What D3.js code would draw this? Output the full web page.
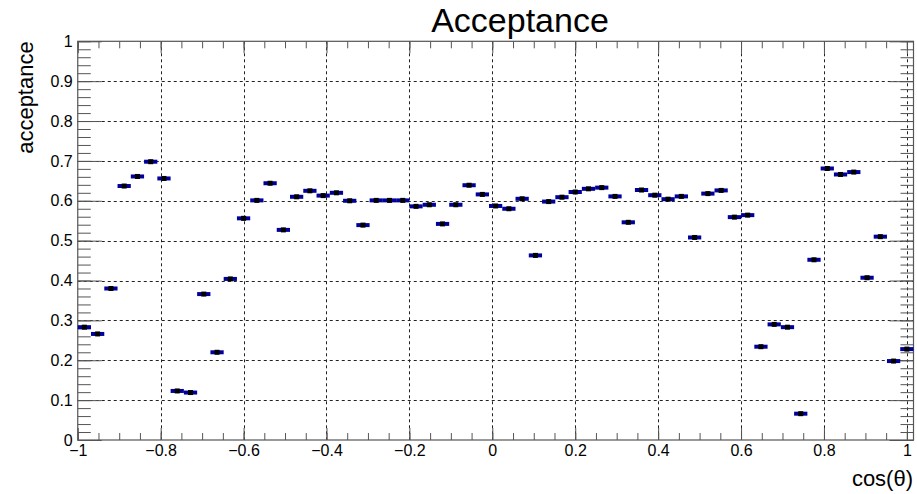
<!DOCTYPE html>
<html>
<head>
<meta charset="utf-8">
<script src="https://cdn.jsdelivr.net/npm/d3@7"></script>
<style>
  html, body { margin: 0; padding: 0; background: #fff; }
  svg { display: block; }
  text { font-family: "Liberation Sans", Arial, sans-serif; }
</style>
</head>
<body>
<svg id="chart" width="917" height="494"></svg>
<script>
// ---- data ----
const binCenters = [
  -0.984, -0.952, -0.920, -0.888, -0.856, -0.824, -0.792, -0.760, -0.728, -0.696,
  -0.664, -0.632, -0.600, -0.568, -0.536, -0.504, -0.472, -0.440, -0.408, -0.376,
  -0.344, -0.312, -0.280, -0.248, -0.216, -0.184, -0.152, -0.120, -0.088, -0.056,
  -0.024, 0.008, 0.040, 0.072, 0.104, 0.136, 0.168, 0.200, 0.232, 0.264,
  0.296, 0.328, 0.360, 0.392, 0.424, 0.456, 0.488, 0.520, 0.552, 0.584,
  0.616, 0.648, 0.680, 0.712, 0.744, 0.776, 0.808, 0.840, 0.872, 0.904,
  0.936, 0.968, 1.000
];
const binHalfWidth = 0.016;
const acceptance = [
  0.283, 0.266, 0.380, 0.637, 0.661, 0.698, 0.656, 0.123, 0.119, 0.366,
  0.220, 0.404, 0.556, 0.601, 0.644, 0.527, 0.610, 0.625, 0.613, 0.620,
  0.600, 0.539, 0.601, 0.601, 0.601, 0.586, 0.590, 0.542, 0.590, 0.639,
  0.616, 0.587, 0.580, 0.605, 0.463, 0.598, 0.609, 0.622, 0.630, 0.633,
  0.611, 0.546, 0.627, 0.614, 0.604, 0.611, 0.508, 0.618, 0.626, 0.559,
  0.564, 0.234, 0.290, 0.283, 0.066, 0.452, 0.681, 0.666, 0.672, 0.407,
  0.510, 0.198, 0.228
];
const xDomain = [-1, 1.016];
const yDomain = [0, 1];
const xMajorTicks = [-1, -0.8, -0.6, -0.4, -0.2, 0, 0.2, 0.4, 0.6, 0.8, 1];
const yMajorTicks = [0, 0.1, 0.2, 0.3, 0.4, 0.5, 0.6, 0.7, 0.8, 0.9, 1];
const titleText = "Acceptance";
const xTitle = "cos(\u03B8)";
const yTitle = "acceptance";

// ---- layout ----
const L = 77.75, R = 913.5, T = 41.3, B = 440;
const svg = d3.select("#chart");
const x = d3.scaleLinear().domain(xDomain).range([L, R]);
const y = d3.scaleLinear().domain(yDomain).range([B, T]);

const xMinor = d3.range(-1, 1.0001, 0.05).map(v => +v.toFixed(3));
const yMinor = d3.range(0, 1.0001, 0.02).map(v => +v.toFixed(3));
const fmt = d3.format("~g");
const axisColor = "#555";

// grid
const grid = svg.append("g").attr("stroke", "#222").attr("stroke-width", 1)
  .attr("stroke-dasharray", "3,3").attr("fill", "none");
grid.selectAll("line.gx").data(xMajorTicks.filter(v => v > -1)).join("line")
  .attr("x1", d => Math.round(x(d)) + 0.5).attr("x2", d => Math.round(x(d)) + 0.5)
  .attr("y1", T).attr("y2", B);
grid.selectAll("line.gy").data(yMajorTicks.filter(v => v > 0 && v < 1)).join("line")
  .attr("y1", d => Math.round(y(d)) + 0.5).attr("y2", d => Math.round(y(d)) + 0.5)
  .attr("x1", L).attr("x2", R);

function styleAxis(g) {
  g.select(".domain").remove();
  g.selectAll("line").attr("stroke", axisColor);
  g.selectAll("text").attr("fill", "#000").style("font-size", "16px")
    .style("font-family", "'Liberation Sans', Arial, sans-serif");
}

// bottom axis
svg.append("g").attr("transform", `translate(0,${B})`)
  .call(d3.axisBottom(x).tickValues(xMinor).tickSize(-7).tickFormat(""))
  .call(styleAxis);
svg.append("g").attr("transform", `translate(0,${B})`)
  .call(d3.axisBottom(x).tickValues(xMajorTicks).tickSize(-12).tickPadding(5).tickFormat(fmt))
  .call(styleAxis);
// top axis
svg.append("g").attr("transform", `translate(0,${T})`)
  .call(d3.axisTop(x).tickValues(xMinor).tickSize(-7).tickFormat(""))
  .call(styleAxis);
svg.append("g").attr("transform", `translate(0,${T})`)
  .call(d3.axisTop(x).tickValues(xMajorTicks).tickSize(-12).tickFormat(""))
  .call(styleAxis);
// left axis
svg.append("g").attr("transform", `translate(${L},0)`)
  .call(d3.axisLeft(y).tickValues(yMinor).tickSize(-13).tickFormat(""))
  .call(styleAxis);
svg.append("g").attr("transform", `translate(${L},0)`)
  .call(d3.axisLeft(y).tickValues(yMajorTicks).tickSize(-24).tickPadding(5).tickFormat(fmt))
  .call(styleAxis);
// right axis
svg.append("g").attr("transform", `translate(${R},0)`)
  .call(d3.axisRight(y).tickValues(yMinor).tickSize(-13).tickFormat(""))
  .call(styleAxis);
svg.append("g").attr("transform", `translate(${R},0)`)
  .call(d3.axisRight(y).tickValues(yMajorTicks).tickSize(-24).tickFormat(""))
  .call(styleAxis);

// frame
svg.append("rect").attr("x", L).attr("y", T).attr("width", R - L).attr("height", B - T)
  .attr("fill", "none").attr("stroke", axisColor).attr("stroke-width", 1.2);

// data
const pts = binCenters.map((c, i) => ({ c, v: acceptance[i] }));
svg.append("g").selectAll("line").data(pts).join("line")
  .attr("x1", d => x(d.c - binHalfWidth)).attr("x2", d => x(d.c + binHalfWidth))
  .attr("y1", d => y(d.v)).attr("y2", d => y(d.v))
  .attr("stroke", "#00009a").attr("stroke-width", 4);
svg.append("g").selectAll("rect").data(pts).join("rect")
  .attr("x", d => x(d.c) - 2.5).attr("y", d => y(d.v) - 2.5)
  .attr("width", 5).attr("height", 5).attr("fill", "#000");

// titles
svg.append("text").attr("x", 520).attr("y", 31.5).attr("text-anchor", "middle")
  .style("font-size", "34px").text(titleText);
svg.append("text").attr("transform", `translate(32.5,${T}) rotate(-90)`)
  .attr("text-anchor", "end").style("font-size", "22px").text(yTitle);
svg.append("text").attr("x", 913).attr("y", 486).attr("text-anchor", "end")
  .style("font-size", "22px").text(xTitle);
</script>
</body>
</html>
